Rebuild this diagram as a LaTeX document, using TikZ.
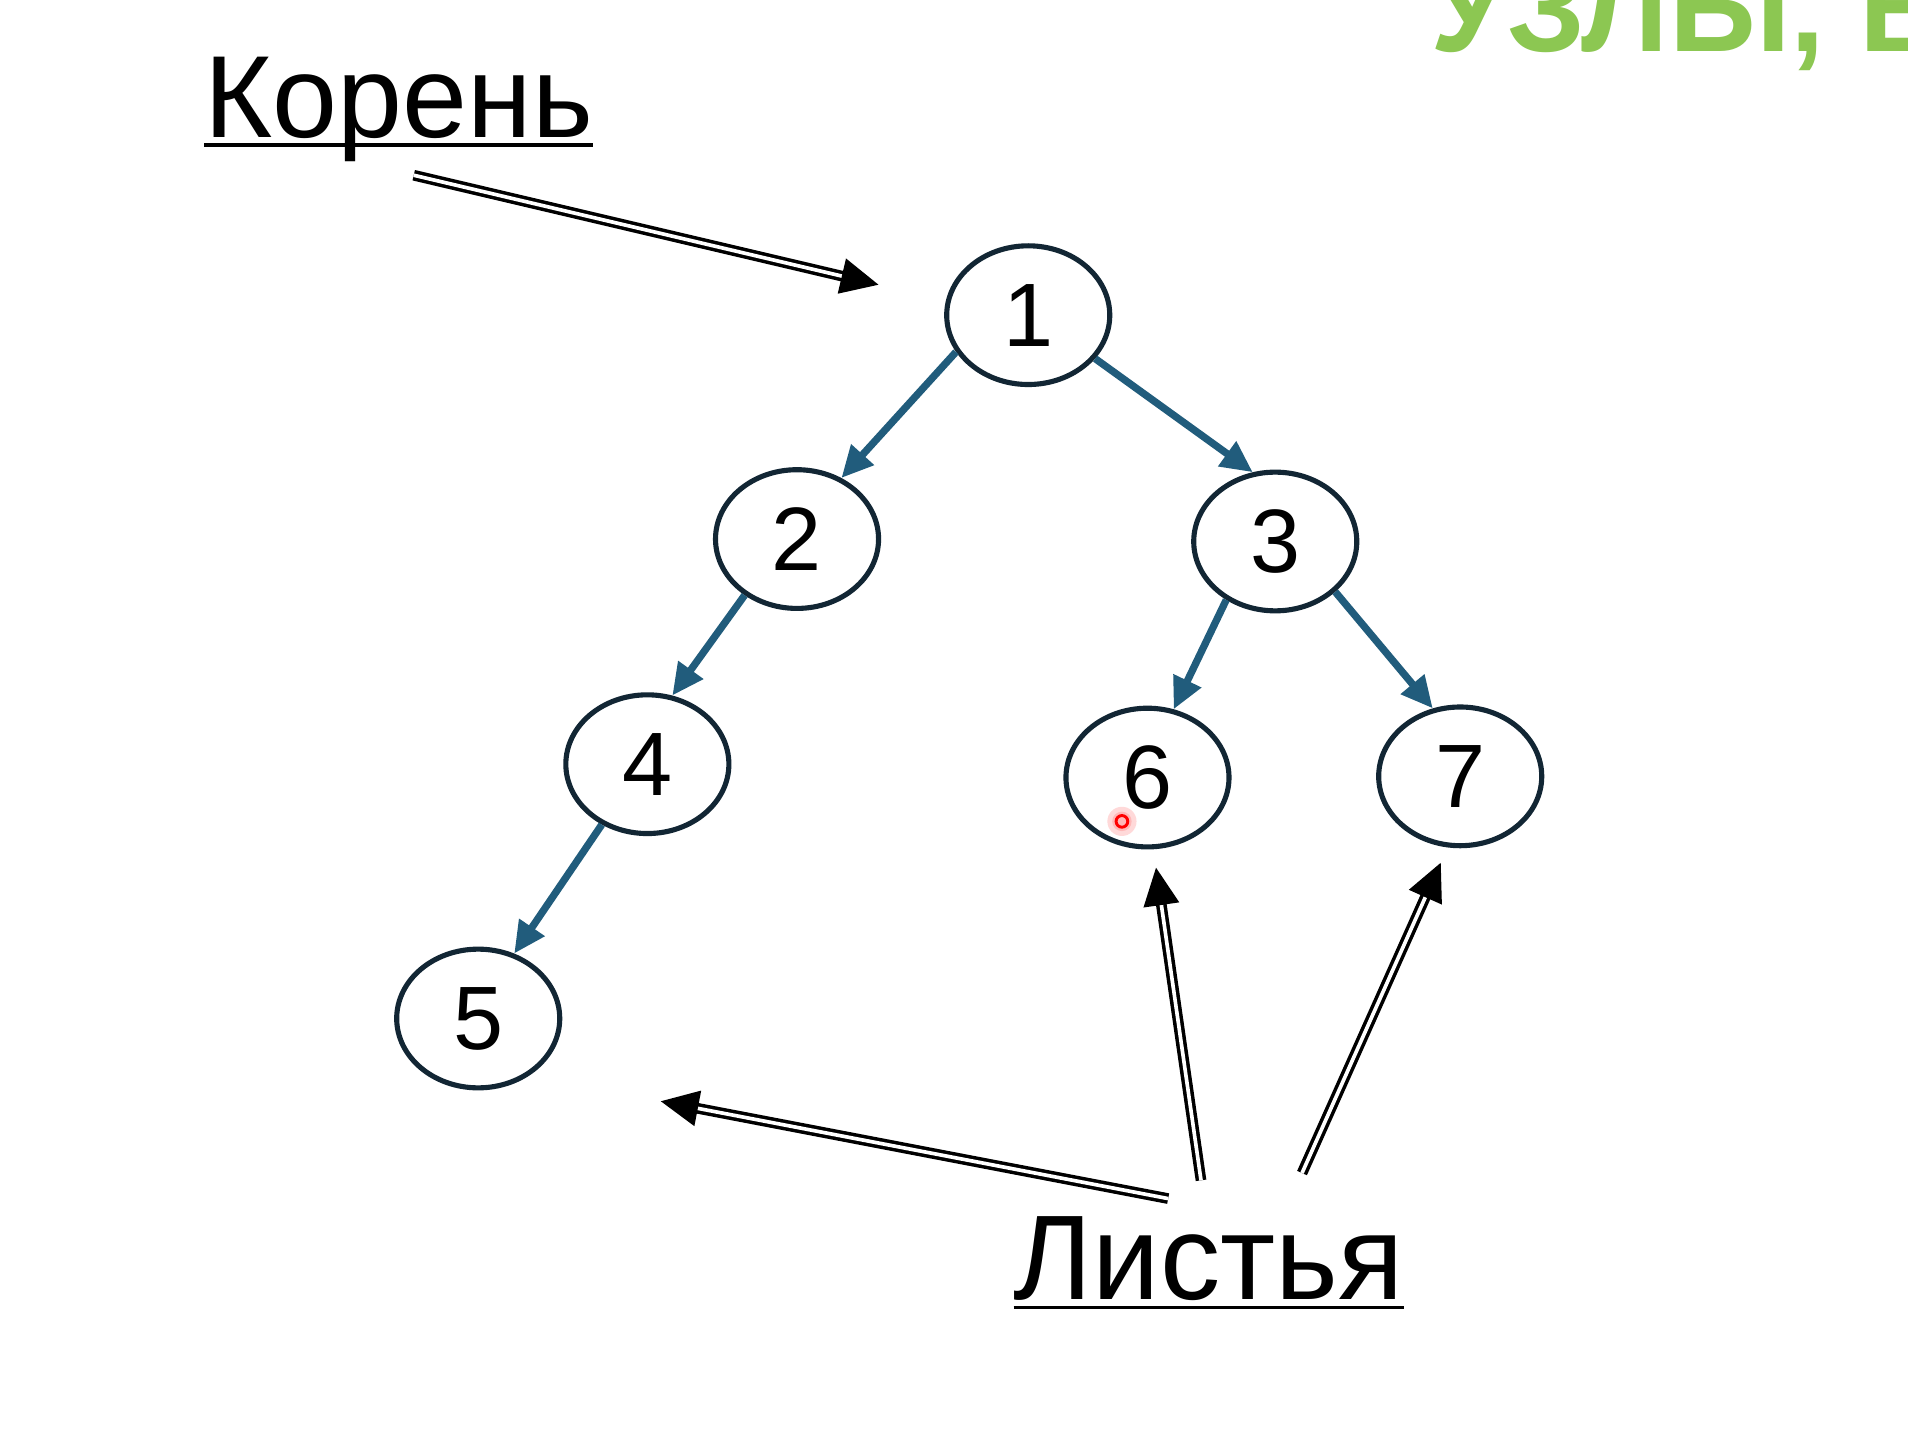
\documentclass[tikz,border=0pt]{standalone}
\usepackage{fontspec}
\setmainfont{Liberation Sans}
\usetikzlibrary{shapes.geometric,arrows.meta}
\definecolor{edgeblue}{RGB}{33,92,124}
\definecolor{ringdark}{RGB}{18,38,52}
\definecolor{titlegreen}{RGB}{140,199,82}
\begin{document}
\begin{tikzpicture}[x=1pt,y=-1pt,
  treenode/.style={ellipse,draw=ringdark,line width=4.2pt,minimum width=134pt,minimum height=114pt,inner sep=0pt,font=\fontsize{74}{74}\selectfont},
  treeedge/.style={edgeblue,line width=6pt,-{Triangle[length=26pt,width=24pt]}},
  dblarrow/.style={double,double distance=3pt,line width=2.9pt,-{Triangle[length=31pt,width=29pt]}},
  biglabel/.style={inner sep=0pt,anchor=base west}]
\useasboundingbox (0,0) rectangle (1568,1180);
\fill[white] (0,0) rectangle (1568,1180);
\clip (0,0) rectangle (1568,1180);
% title fragment
\node[inner sep=0pt,anchor=base west,text=titlegreen,font=\fontsize{102}{102}\selectfont\bfseries] (title) at (1175,42) {УЗЛЫ, В};
% tree
\node[treenode] (n1) at (845,259) {1};
\node[treenode] (n2) at (655,443) {2};
\node[treenode] (n3) at (1048,445) {3};
\node[treenode] (n4) at (532,628) {4};
\node[treenode] (n5) at (393,837) {5};
\node[treenode] (n6) at (943,639) {6};
\node[treenode] (n7) at (1200,638) {7};
\draw[treeedge] (n1.207) -- (n2.54);
\draw[treeedge] (n1.327) -- (n3.108);
\draw[treeedge] (n2.227) -- (n4.70);
\draw[treeedge] (n3.230) -- (n6.69);
\draw[treeedge] (n3.320) -- (n7.112);
\draw[treeedge] (n4.233) -- (n5.61);
% labels
\node[biglabel,font=\fontsize{96}{96}\selectfont] (koren) at (168,113) {Корень};
\draw[line width=3.2pt] ([yshift=-6.5pt]koren.base west) -- ([yshift=-6.5pt]koren.base east);
\node[biglabel,font=\fontsize{99}{99}\selectfont] (listya) at (833,1068) {Листья};
\draw[line width=3.2pt] ([yshift=-6.5pt]listya.base west) -- ([yshift=-6.5pt]listya.base east);
% pointer arrows
\coordinate (kstart) at (340,144);
\coordinate (kend) at (722,234);
\draw[dblarrow] (kstart) -- (kend);
\coordinate (l5start) at (960,985);
\coordinate (l5end) at (543,905);
\coordinate (l6start) at (987,970);
\coordinate (l6end) at (950,713);
\coordinate (l7start) at (1070,964);
\coordinate (l7end) at (1184,709);
\draw[dblarrow] (l5start) -- (l5end);
\draw[dblarrow] (l6start) -- (l6end);
\draw[dblarrow] (l7start) -- (l7end);
% pointer dot
\fill[red,opacity=0.15] (922,675) circle (12pt);
\fill[red,opacity=0.15] (922,675) circle (8pt);
\draw[red,line width=2.4pt] (922,675) circle (4.8pt);
\end{tikzpicture}
\end{document}
